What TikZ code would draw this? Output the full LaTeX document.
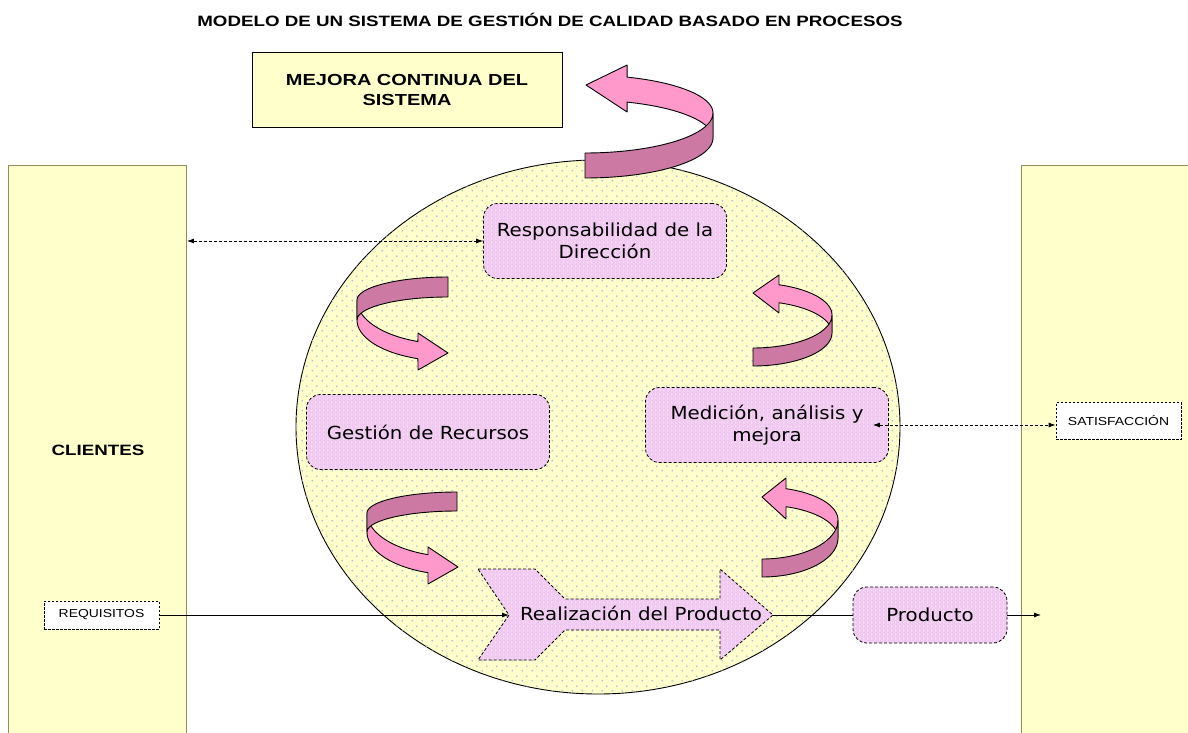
\documentclass[tikz,border=0pt]{standalone}
\usepackage{fontspec}
\usetikzlibrary{patterns.meta,calc,arrows.meta}

\newfontfamily\capsfont[FakeStretch=1.25]{Liberation Sans}
\newfontfamily\smallsans[FakeStretch=1.2]{Liberation Sans}
\newfontfamily\handfont[FakeStretch=1.1]{DejaVu Sans}

\definecolor{paleyellow}{HTML}{FFFFCC}
\definecolor{dotblue}{HTML}{AFBFDA}
\definecolor{lilac}{HTML}{F2CCF2}
\definecolor{lilacdot}{HTML}{E4B6E4}
\definecolor{ribbonlight}{HTML}{FF99CC}
\definecolor{ribbondark}{HTML}{CC7AA3}
\definecolor{olivegray}{HTML}{8F8F5A}

% dotted textures of the process circle and of the process boxes
\tikzdeclarepattern{
  name=yellowdots, type=colored,
  bounding box={(0pt,0pt) and (10pt,10pt)},
  tile size={(10pt,10pt)},
  code={\fill[dotblue] (2.5pt,2.5pt) circle[radius=1.05pt];
        \fill[dotblue] (7.5pt,7.5pt) circle[radius=1.05pt];}
}
\tikzdeclarepattern{
  name=lilacdots, type=colored,
  bounding box={(0pt,0pt) and (4pt,4pt)},
  tile size={(4pt,4pt)},
  code={\fill[lilacdot] (1pt,1pt) circle[radius=0.5pt];
        \fill[lilacdot] (3pt,3pt) circle[radius=0.5pt];}
}

\tikzset{
  procbox/.style={draw, line width=0.8pt, dash pattern=on 3pt off 2pt,
    rounded corners=14pt, preaction={fill=lilac}, pattern=lilacdots,
    minimum width=243pt, minimum height=75pt, align=center,
    font=\handfont\fontsize{18}{22}\selectfont},
  notebox/.style={draw, line width=0.8pt, dash pattern=on 2.5pt off 1.5pt,
    fill=white, inner sep=0pt, font=\smallsans\fontsize{11.6}{14}\selectfont},
  sidebar/.style={draw=olivegray, line width=0.9pt, fill=paleyellow,
    anchor=north west, inner sep=0pt},
  ribbonlt/.style={fill=ribbonlight, draw=black, line width=0.9pt,
    line join=round, samples=30, variable=\t},
  ribbondk/.style={fill=ribbondark, draw=black, line width=0.9pt,
    line join=round, samples=30, variable=\t},
  flow/.style={-{Latex[length=7pt,width=5pt]}, line width=0.8pt},
  dashflow/.style={{Latex[length=7pt,width=5pt]}-{Latex[length=7pt,width=5pt]},
    line width=0.8pt, dash pattern=on 3pt off 2pt},
}

\begin{document}
\begin{tikzpicture}[x=1pt,y=-1pt]
\useasboundingbox (0,0) rectangle (1188,733);
\fill[white] (0,0) rectangle (1188,733);
\clip (0,0) rectangle (1188,733);

% title
\node[font=\capsfont\bfseries\fontsize{15}{18}\selectfont] (title) at (550,20)
  {MODELO DE UN SISTEMA DE GESTIÓN DE CALIDAD BASADO EN PROCESOS};

% customers on both sides
\node[sidebar, minimum width=178pt, minimum height=620pt] (clients) at (8,165) {};
\node[sidebar, minimum width=200pt, minimum height=620pt] (market) at (1021,165) {};
\node[font=\capsfont\bfseries\fontsize{15}{18}\selectfont] (clientlabel) at (98,450) {CLIENTES};

% continual improvement box
\node[draw, line width=0.9pt, fill=paleyellow, minimum width=310pt, minimum height=75pt,
  align=center, font=\capsfont\bfseries\fontsize{16}{20}\selectfont] (mejora) at (407,89.5)
  {MEJORA CONTINUA DEL\\SISTEMA};

% process circle
\path[draw, line width=0.9pt, fill=paleyellow] (598,427) ellipse[x radius=302, y radius=267];
\path[pattern=yellowdots] (598,427) ellipse[x radius=302, y radius=267];

% process boxes
\node[procbox] (resp) at (605,241) {Responsabilidad de la\\Dirección};
\node[procbox] (gest) at (428,432) {Gestión de Recursos};
\node[procbox] (med) at (767,425) {Medición, análisis y\\mejora};

% product realization arrow
\coordinate (notch) at (509,615);
\coordinate (chevtip) at (773,615);
\path[draw, line width=0.8pt, dash pattern=on 3pt off 2pt, preaction={fill=lilac}, pattern=lilacdots]
  (478,569) -- (535,569) -- (565,599) -- (720,599) -- (720,569) -- (chevtip)
  -- (720,660) -- (720,630) -- (565,630) -- (535,660) -- (478,660) -- (notch) -- cycle;
\node[font=\handfont\fontsize{18}{22}\selectfont] (real) at (641,613) {Realización del Producto};

\node[procbox, minimum width=154pt, minimum height=56pt] (prod) at (930,615) {Producto};
\node[notebox, minimum width=125pt, minimum height=37pt] (sat) at (1118.5,421) {SATISFACCIÓN};
\node[notebox, minimum width=115pt, minimum height=28pt] (req) at (101.5,615) {REQUISITOS};

% curved ribbon arrows: large one above the circle
\draw[ribbonlt] plot[domain=0:-70.8] ({585+128*cos(\t)},{138+38*sin(\t)})
  -- (627.1,112) -- (586,85) -- (627.1,65)
  -- plot[domain=-70.8:0] ({585+128*cos(\t)},{113+38*sin(\t)}) -- cycle;
\draw[ribbondk] plot[domain=90:0] ({585+128*cos(\t)},{113+40*sin(\t)})
  -- plot[domain=0:90] ({585+128*cos(\t)},{138+40*sin(\t)}) -- cycle;

% right side, upper
\draw[ribbonlt] plot[domain=0:-70.8] ({753+79*cos(\t)},{333+32*sin(\t)})
  -- (779,313) -- (753,293) -- (779,275)
  -- plot[domain=-70.8:0] ({753+79*cos(\t)},{315+32*sin(\t)}) -- cycle;
\draw[ribbondk] plot[domain=90:0] ({753+79*cos(\t)},{315+33*sin(\t)})
  -- plot[domain=0:90] ({753+79*cos(\t)},{333+33*sin(\t)}) -- cycle;

% right side, lower
\draw[ribbonlt] plot[domain=0:-71.6] ({762+76*cos(\t)},{538+33*sin(\t)})
  -- (786,519) -- (762,497) -- (786,478)
  -- plot[domain=-71.6:0] ({762+76*cos(\t)},{520+33*sin(\t)}) -- cycle;
\draw[ribbondk] plot[domain=90:0] ({762+76*cos(\t)},{520+39*sin(\t)})
  -- plot[domain=0:90] ({762+76*cos(\t)},{538+39*sin(\t)}) -- cycle;

% left side, upper
\draw[ribbonlt] plot[domain=180:109.3] ({448+91*cos(\t)},{320+41*sin(\t)})
  -- (418,370) -- (448,353) -- (418,333)
  -- plot[domain=109.3:180] ({448+91*cos(\t)},{300+44*sin(\t)}) -- cycle;
\draw[ribbondk] plot[domain=270:180] ({448+91*cos(\t)},{300+23*sin(\t)})
  -- plot[domain=180:270] ({448+91*cos(\t)},{320+23*sin(\t)}) -- cycle;

% left side, lower
\draw[ribbonlt] plot[domain=180:108.8] ({457+90*cos(\t)},{532+43*sin(\t)})
  -- (428,584) -- (458,567) -- (428,547)
  -- plot[domain=108.8:180] ({457+90*cos(\t)},{513+44*sin(\t)}) -- cycle;
\draw[ribbondk] plot[domain=270:180] ({457+90*cos(\t)},{513+21*sin(\t)})
  -- plot[domain=180:270] ({457+90*cos(\t)},{532+21*sin(\t)}) -- cycle;

% connectors
\draw[dashflow] (resp.west -| clients.east) -- (resp.west);
\coordinate (medin) at ($(med.east)+(-16,0)$);
\draw[dashflow] (medin) -- (medin -| sat.west);
\draw[flow] (req.east) -- (notch);
\draw[line width=0.8pt] (chevtip) -- (prod.west);
\coordinate (outflow) at (1041,615);
\draw[flow] (prod.east) -- (outflow);
\end{tikzpicture}
\end{document}
